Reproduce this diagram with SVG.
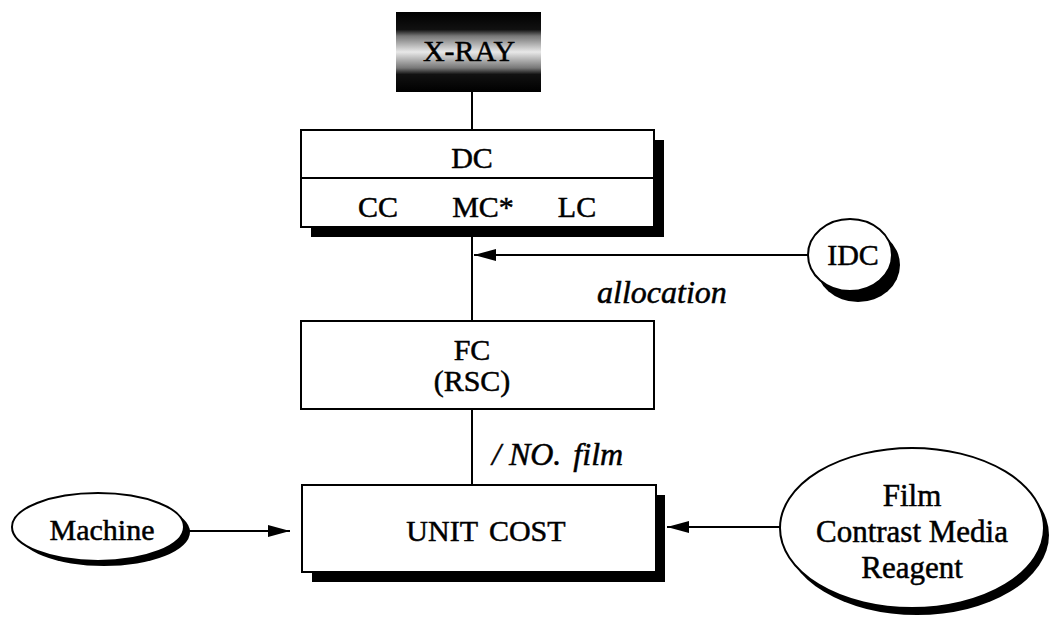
<svg xmlns="http://www.w3.org/2000/svg" width="1049" height="619" viewBox="0 0 1049 619">
<style>
text{font-family:"Liberation Serif","Times New Roman",serif;font-size:30px;fill:#000;text-anchor:middle;stroke:#000;stroke-width:0.5}
.i{font-style:italic;text-anchor:start;font-size:32px}
.big{font-size:31px}
.box{fill:#fff;stroke:#000;stroke-width:2}
.sh{fill:#000}
.ln{stroke:#000;stroke-width:2;fill:none}
</style>
<defs>
<linearGradient id="g" x1="0" y1="0" x2="0" y2="1">
<stop offset="0" stop-color="#000"/>
<stop offset="0.22" stop-color="#111"/>
<stop offset="0.3" stop-color="#777"/>
<stop offset="0.5" stop-color="#e8e8e8"/>
<stop offset="0.7" stop-color="#777"/>
<stop offset="0.78" stop-color="#111"/>
<stop offset="1" stop-color="#000"/>
</linearGradient>
<marker id="ah" markerWidth="24" markerHeight="14" refX="22" refY="7" orient="auto" markerUnits="userSpaceOnUse">
<path d="M0,1 L22,7 L0,13 Z" fill="#000"/>
</marker>
</defs>
<g id="connectors">
<line class="ln" x1="472" y1="92" x2="472" y2="130"/>
<line class="ln" x1="472" y1="237" x2="472" y2="321"/>
<line class="ln" x1="808" y1="255" x2="474" y2="255" marker-end="url(#ah)"/>
<line class="ln" x1="472" y1="409" x2="472" y2="485"/>
<line class="ln" x1="168" y1="531" x2="290" y2="531" marker-end="url(#ah)"/>
<line class="ln" x1="780" y1="527" x2="667" y2="527" marker-end="url(#ah)"/>
<text class="i" x="597" y="303">allocation</text>
<text class="i" x="492" y="465">/ NO.<tspan dx="12">film</tspan></text>
</g>
<g id="xray">
<rect x="396" y="12" width="145" height="80" fill="url(#g)"/>
<text x="469" y="61" font-size="28">X-RAY</text>
</g>
<g id="dc">
<rect class="sh" x="311" y="140" width="353" height="97"/>
<rect class="box" x="301" y="130" width="353" height="97"/>
<line class="ln" x1="301" y1="178" x2="654" y2="178"/>
<text x="472" y="168">DC</text>
<text x="378" y="217">CC</text>
<text x="483" y="217">MC*</text>
<text x="577" y="217">LC</text>
</g>
<g id="idc">
<ellipse class="sh" cx="858" cy="265" rx="42" ry="37"/>
<ellipse class="box" cx="850" cy="255" rx="42" ry="36"/>
<text x="853" y="265">IDC</text>
</g>
<g id="fc">
<rect class="box" x="301" y="321" width="353" height="88"/>
<text x="472" y="360">FC</text>
<text x="472" y="391">(RSC)</text>
</g>
<g id="unitcost">
<rect class="sh" x="312" y="495" width="353" height="87"/>
<rect class="box" x="302" y="485" width="354" height="87"/>
<text x="486" y="541" style="word-spacing:4px">UNIT COST</text>
</g>
<g id="machine">
<ellipse class="sh" cx="104" cy="532" rx="86" ry="34"/>
<ellipse class="box" cx="98" cy="527" rx="86" ry="34"/>
<text x="102" y="540">Machine</text>
</g>
<g id="materials">
<ellipse class="sh" cx="917" cy="535" rx="132" ry="80"/>
<ellipse class="box" cx="912" cy="528" rx="132" ry="80"/>
<text class="big" x="912" y="506">Film</text>
<text class="big" x="912" y="542">Contrast Media</text>
<text class="big" x="912" y="578">Reagent</text>
</g>
</svg>
